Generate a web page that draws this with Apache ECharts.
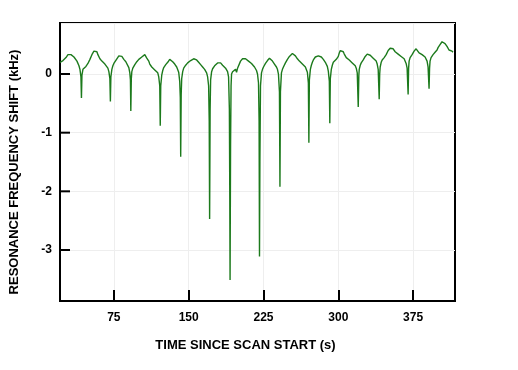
<!DOCTYPE html>
<html>
<head>
<meta charset="utf-8">
<script src="https://cdn.jsdelivr.net/npm/echarts@6/dist/echarts.min.js"></script>
<style>
  html, body { margin: 0; padding: 0; background: #fff; }
  #chart { width: 518px; height: 370px; }
</style>
</head>
<body>
<div id="chart"></div>
<script>
// tick labels
const xTicks = [75, 150, 225, 300, 375];
const yTicks = [-3, -2, -1, 0];
const X_MIN = 21;
const X_MAX = 417;

// [time (s), resonance frequency shift (kHz)]
const trace = [
  [21, 0.20], [22, 0.22], [23, 0.19], [24, 0.23], [25, 0.21], [26, 0.25], [27, 0.28], [28, 0.30], [29, 0.33], [30, 0.31],
  [31, 0.35], [32, 0.33], [33, 0.34], [34, 0.30], [35, 0.29], [36, 0.26], [37, 0.27], [38, 0.22], [39, 0.20], [40, 0.14],
  [41, 0.08], [42, -0.05], [42.5, -0.41], [43, -0.02], [44, 0.08],
  [45, 0.10], [46, 0.06], [47, 0.13], [48, 0.11], [49, 0.18], [50, 0.21], [51, 0.25], [52, 0.28], [53, 0.33], [54, 0.36],
  [55, 0.39], [56, 0.41], [57, 0.40], [58, 0.38], [59, 0.33], [60, 0.30], [61, 0.26], [62, 0.27], [63, 0.22], [64, 0.19],
  [65, 0.20], [66, 0.17], [67, 0.18], [68, 0.14], [69, 0.10], [70, 0.04], [71, -0.08], [71.5, -0.47], [72, -0.05], [73, 0.08],
  [74, 0.14], [75, 0.18], [76, 0.21], [77, 0.20], [78, 0.26], [79, 0.29], [80, 0.31], [81, 0.34], [82, 0.33], [83, 0.30],
  [84, 0.28], [85, 0.25], [86, 0.26], [87, 0.21], [88, 0.19], [89, 0.18], [90, 0.11], [91, 0.02], [91.6, -0.10], [92, -0.63],
  [92.5, -0.08], [93, 0.04],
  [94, 0.10], [95, 0.12], [96, 0.16], [97, 0.18], [98, 0.21], [99, 0.22], [100, 0.25], [101, 0.26], [102, 0.28], [103, 0.29],
  [104, 0.30], [105, 0.31], [106, 0.33], [107, 0.31], [108, 0.27], [109, 0.24], [110, 0.22], [111, 0.17], [112, 0.14], [113, 0.12],
  [114, 0.09], [115, 0.10], [116, 0.07], [117, 0.04], [118, 0.05], [119, 0.02], [120, -0.05], [121, -0.20], [121.5, -0.88], [122, -0.20],
  [123, -0.02],
  [124, 0.06], [125, 0.11], [126, 0.13], [127, 0.16], [128, 0.19], [129, 0.20], [130, 0.22], [131, 0.25], [132, 0.24], [133, 0.22],
  [134, 0.21], [135, 0.19], [136, 0.17], [137, 0.15], [138, 0.12], [139, 0.10], [140, 0.03], [141, -0.12], [141.6, -0.40], [142, -1.41],
  [142.5, -0.35], [143, -0.08], [144, 0.04],
  [145, 0.10], [146, 0.13], [147, 0.15], [148, 0.16], [149, 0.19], [150, 0.20], [151, 0.22], [152, 0.23], [153, 0.25], [154, 0.24],
  [155, 0.26], [156, 0.27], [157, 0.26], [158, 0.24], [159, 0.22], [160, 0.20], [161, 0.19], [162, 0.16], [163, 0.15], [164, 0.12],
  [165, 0.09], [166, 0.08], [167, 0.05], [168, 0.02], [169, -0.05], [170, -0.20], [170.6, -0.80], [171, -2.47], [171.5, -0.60], [172, -0.10],
  [173, 0.04],
  [174, 0.09], [175, 0.12], [176, 0.14], [177, 0.15], [178, 0.17], [179, 0.19], [180, 0.18], [181, 0.20], [182, 0.19], [183, 0.17],
  [184, 0.15], [185, 0.14], [186, 0.12], [187, 0.10], [188, 0.07], [189, 0.04], [190, -0.05], [190.8, -0.60], [191.2, -2.00], [191.5, -3.51],
  [192, -1.20], [192.5, -0.20], [193, 0.00],
  [194, 0.04], [195, 0.07], [196, 0.05], [197, 0.08], [198, 0.03], [199, 0.10], [200, 0.08], [201, 0.12], [202, 0.22], [203, 0.25],
  [204, 0.26], [205, 0.25], [206, 0.27], [207, 0.26], [208, 0.24], [209, 0.25], [210, 0.22], [211, 0.21], [212, 0.20], [213, 0.18],
  [214, 0.16], [215, 0.15], [216, 0.12], [217, 0.10], [218, 0.06], [219, 0.00], [220, -0.15], [220.6, -0.80], [221, -3.11], [221.4, -1.50],
  [222, -0.20], [223, 0.02],
  [224, 0.08], [225, 0.12], [226, 0.15], [227, 0.18], [228, 0.20], [229, 0.23], [230, 0.25], [231, 0.27], [232, 0.26], [233, 0.24],
  [234, 0.22], [235, 0.21], [236, 0.17], [237, 0.15], [238, 0.12], [239, 0.08], [240, 0.00], [241, -0.30], [241.5, -1.92], [242, -0.30],
  [243, 0.02],
  [244, 0.08], [245, 0.12], [246, 0.15], [247, 0.19], [248, 0.22], [249, 0.25], [250, 0.27], [251, 0.30], [252, 0.32], [253, 0.33],
  [254, 0.35], [255, 0.34], [256, 0.33], [257, 0.31], [258, 0.28], [259, 0.26], [260, 0.24], [261, 0.22], [262, 0.20], [263, 0.19],
  [264, 0.17], [265, 0.16], [266, 0.14], [267, 0.12], [268, 0.09], [269, 0.03], [270, -0.15], [270.5, -1.17], [271, -0.10], [272, 0.08],
  [273, 0.15], [274, 0.20], [275, 0.24], [276, 0.27], [277, 0.29], [278, 0.30], [279, 0.32], [280, 0.31], [281, 0.32], [282, 0.30],
  [283, 0.29], [284, 0.27], [285, 0.25], [286, 0.22], [287, 0.20], [288, 0.17], [289, 0.13], [290, 0.05], [291, -0.12], [291.5, -0.84],
  [292, -0.08], [293, 0.08],
  [294, 0.15], [295, 0.20], [296, 0.22], [297, 0.20], [298, 0.25], [299, 0.27], [300, 0.30], [301, 0.36], [302, 0.40], [303, 0.42],
  [304, 0.41], [305, 0.38], [306, 0.34], [307, 0.32], [308, 0.28], [309, 0.26], [310, 0.27], [311, 0.24], [312, 0.22], [313, 0.21],
  [314, 0.19], [315, 0.20], [316, 0.17], [317, 0.14], [318, 0.10], [319, 0.02], [320, -0.56], [320.6, -0.02], [321, 0.08],
  [322, 0.15], [323, 0.19], [324, 0.21], [325, 0.24], [326, 0.27], [327, 0.30], [328, 0.32], [329, 0.34], [330, 0.35], [331, 0.34],
  [332, 0.32], [333, 0.30], [334, 0.29], [335, 0.27], [336, 0.26], [337, 0.24], [338, 0.22], [339, 0.17], [340, 0.08], [341, -0.43],
  [341.5, 0.00], [342, 0.12],
  [343, 0.20], [344, 0.24], [345, 0.26], [346, 0.28], [347, 0.30], [348, 0.33], [349, 0.36], [350, 0.40], [351, 0.42], [352, 0.44],
  [353, 0.47], [354, 0.45], [355, 0.43], [356, 0.40], [357, 0.38], [358, 0.39], [359, 0.36], [360, 0.34], [361, 0.33], [362, 0.31],
  [363, 0.30], [364, 0.32], [365, 0.29], [366, 0.26], [367, 0.24], [368, 0.18], [369, 0.10], [370, -0.35], [370.5, 0.10], [371, 0.22],
  [372, 0.28], [373, 0.31], [374, 0.33], [375, 0.36], [376, 0.39], [377, 0.41], [378, 0.43], [379, 0.42], [380, 0.40], [381, 0.36],
  [382, 0.34], [383, 0.35], [384, 0.33], [385, 0.31], [386, 0.30], [387, 0.29], [388, 0.26], [389, 0.22], [390, 0.12], [391, -0.25],
  [391.5, 0.10], [392, 0.22],
  [393, 0.28], [394, 0.30], [395, 0.33], [396, 0.35], [397, 0.37], [398, 0.39], [399, 0.41], [400, 0.45], [401, 0.47], [402, 0.50],
  [403, 0.53], [404, 0.55], [405, 0.54], [406, 0.55], [407, 0.52], [408, 0.49], [409, 0.47], [410, 0.44], [411, 0.41], [412, 0.40],
  [413, 0.38], [414, 0.39], [415, 0.37]
];

const FONT = 'Liberation Sans, Arial, sans-serif';

const chart = echarts.init(document.getElementById('chart'));
chart.setOption({
  animation: false,
  grid: {
    left: 59, right: 63, top: 23, bottom: 69,
    show: true,
    borderColor: '#000',
    borderWidth: 2
  },
  xAxis: {
    type: 'value',
    min: X_MIN,
    max: X_MAX,
    name: 'TIME SINCE SCAN START (s)',
    nameLocation: 'middle',
    nameGap: 38,
    nameTextStyle: { fontFamily: FONT, fontWeight: 'bold', fontSize: 13, color: '#000', padding: [0, 24, 0, 0] },
    axisLine: { show: true, onZero: false, lineStyle: { color: '#000', width: 2 } },
    axisTick: { show: true, inside: true, length: 11, lineStyle: { color: '#000', width: 2 }, customValues: xTicks },
    axisLabel: { customValues: xTicks, margin: 11, fontFamily: FONT, fontWeight: 'bold', fontSize: 12, color: '#000' },
    splitLine: { show: true, lineStyle: { color: '#eeeeee', width: 1 } }
  },
  yAxis: {
    type: 'value',
    min: -3.87,
    max: 0.87,
    name: 'RESONANCE FREQUENCY SHIFT (kHz)',
    nameLocation: 'middle',
    nameGap: 39,
    nameTextStyle: { fontFamily: FONT, fontWeight: 'bold', fontSize: 13, color: '#000', padding: [0, 20, 0, 0] },
    axisLine: { show: true, onZero: false, lineStyle: { color: '#000', width: 2 } },
    axisTick: { show: false },
    axisLabel: {
      margin: 8, fontFamily: FONT, fontWeight: 'bold', fontSize: 12, color: '#000',
      formatter: v => (yTicks.includes(v) ? String(v) : '')
    },
    splitLine: { show: true, lineStyle: { color: '#eeeeee', width: 1 } }
  },
  series: [{
    type: 'line',
    data: trace,
    showSymbol: false,
    lineStyle: { color: '#1c7a1c', width: 1.4 }
  }]
});

// inward y ticks: placed through the chart's own scale (the axis' inside ticks did not render)
const tickLines = yTicks.map(v => {
  const p = chart.convertToPixel({ gridIndex: 0 }, [X_MIN, v]);
  return {
    type: 'line',
    z: 100,
    silent: true,
    shape: { x1: p[0], y1: p[1], x2: p[0] + 10, y2: p[1] },
    style: { stroke: '#000', lineWidth: 2 }
  };
});
chart.setOption({ graphic: tickLines });
</script>
</body>
</html>
